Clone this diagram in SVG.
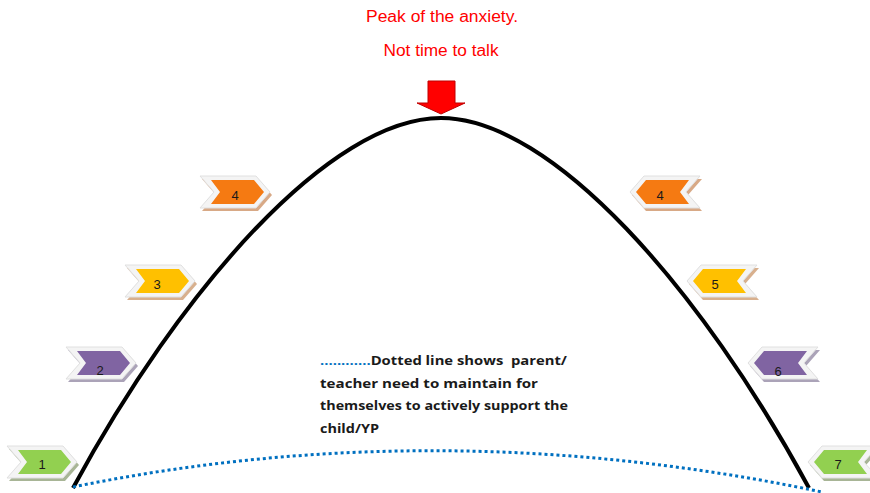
<svg xmlns="http://www.w3.org/2000/svg" xmlns:xlink="http://www.w3.org/1999/xlink" width="870" height="493" viewBox="0 0 870 493">
<style>
.frame{fill:#F4F4F4;stroke:#E0E0E0;stroke-width:1}
.g{fill:#92D050}.p{fill:#8064A2}.y{fill:#FFC000}.o{fill:#F57A12}
.sg{fill:#A8B596}.sp{fill:#ABA3B8}.sy{fill:#D8B08E}.so{fill:#D8A986}
.num{font-family:"Liberation Sans",Arial,sans-serif;font-size:13px;fill:#1A1A1A;text-anchor:middle}
.red{font-family:"Liberation Sans",Arial,sans-serif;font-size:16px;fill:#FF0000;text-anchor:middle}
.note{font-family:"Open Sans","Liberation Sans",sans-serif;font-weight:bold;font-size:13px;fill:#1A1A1A}
</style>
<defs>
<polygon id="chevO" points="0,0 56,0 70,16 56,32 0,32 14,16"/>
<polygon id="chevI" points="11,4 54,4 64,16 54,28 11,28 20,16"/>
</defs>
<rect width="870" height="493" fill="#FFFFFF"/>

<g id="title">
<text class="red" x="442" y="22" textLength="152" lengthAdjust="spacingAndGlyphs">Peak of the anxiety.</text>
<text class="red" x="441" y="56" textLength="115" lengthAdjust="spacingAndGlyphs">Not time to talk</text>
</g>

<g id="peak-arrow">
<polygon points="428,81 455,81 455,103 465,103 441,114 417,103 428,103" fill="#FF0000" stroke="#C00000" stroke-width="1"/>
</g>

<g id="connectors">
<path d="M73,488 C180,290 330,118 441,118 C552,118 702,290 809,488" fill="none" stroke="#000000" stroke-width="4"/>
<path d="M73,487 Q440,412 822,492" fill="none" stroke="#0070C0" stroke-width="3" stroke-dasharray="3,3"/>
</g>

<g id="step1">
<g transform="translate(7,446)"><use href="#chevO" class="sg" transform="translate(2,3)"/><use href="#chevO" class="frame"/><use href="#chevI" class="g"/></g>
<text class="num" x="42" y="469">1</text>
</g>
<g id="step2">
<g transform="translate(66,347)"><use href="#chevO" class="sp" transform="translate(2,3)"/><use href="#chevO" class="frame"/><use href="#chevI" class="p"/></g>
<text class="num" x="100" y="375">2</text>
</g>
<g id="step3">
<g transform="translate(125,265)"><use href="#chevO" class="sy" transform="translate(2,3)"/><use href="#chevO" class="frame"/><use href="#chevI" class="y"/></g>
<text class="num" x="157" y="289">3</text>
</g>
<g id="step4-up">
<g transform="translate(200,176)"><use href="#chevO" class="so" transform="translate(2,3)"/><use href="#chevO" class="frame"/><use href="#chevI" class="o"/></g>
<text class="num" x="235" y="200">4</text>
</g>
<g id="step4-down">
<g transform="translate(700,176) scale(-1,1)"><use href="#chevO" class="so" transform="translate(-2,3)"/><use href="#chevO" class="frame"/><use href="#chevI" class="o"/></g>
<text class="num" x="660" y="200">4</text>
</g>
<g id="step5">
<g transform="translate(757,265) scale(-1,1)"><use href="#chevO" class="sy" transform="translate(-2,3)"/><use href="#chevO" class="frame"/><use href="#chevI" class="y"/></g>
<text class="num" x="715" y="289">5</text>
</g>
<g id="step6">
<g transform="translate(818,347) scale(-1,1)"><use href="#chevO" class="sp" transform="translate(-2,3)"/><use href="#chevO" class="frame"/><use href="#chevI" class="p"/></g>
<text class="num" x="778" y="376">6</text>
</g>
<g id="step7">
<g transform="translate(878,446) scale(-1,1)"><use href="#chevO" class="sg" transform="translate(-2,3)"/><use href="#chevO" class="frame"/><use href="#chevI" class="g"/></g>
<text class="num" x="838" y="469">7</text>
</g>

<g id="note">
<text class="note" x="320" y="365" textLength="247" lengthAdjust="spacingAndGlyphs"><tspan fill="#0070C0">............</tspan>Dotted line shows&#160; parent/</text>
<text class="note" x="320" y="388" textLength="218" lengthAdjust="spacingAndGlyphs">teacher need to maintain for</text>
<text class="note" x="320" y="410" textLength="248" lengthAdjust="spacingAndGlyphs">themselves to actively support the</text>
<text class="note" x="320" y="433" textLength="59" lengthAdjust="spacingAndGlyphs">child/YP</text>
</g>
</svg>
